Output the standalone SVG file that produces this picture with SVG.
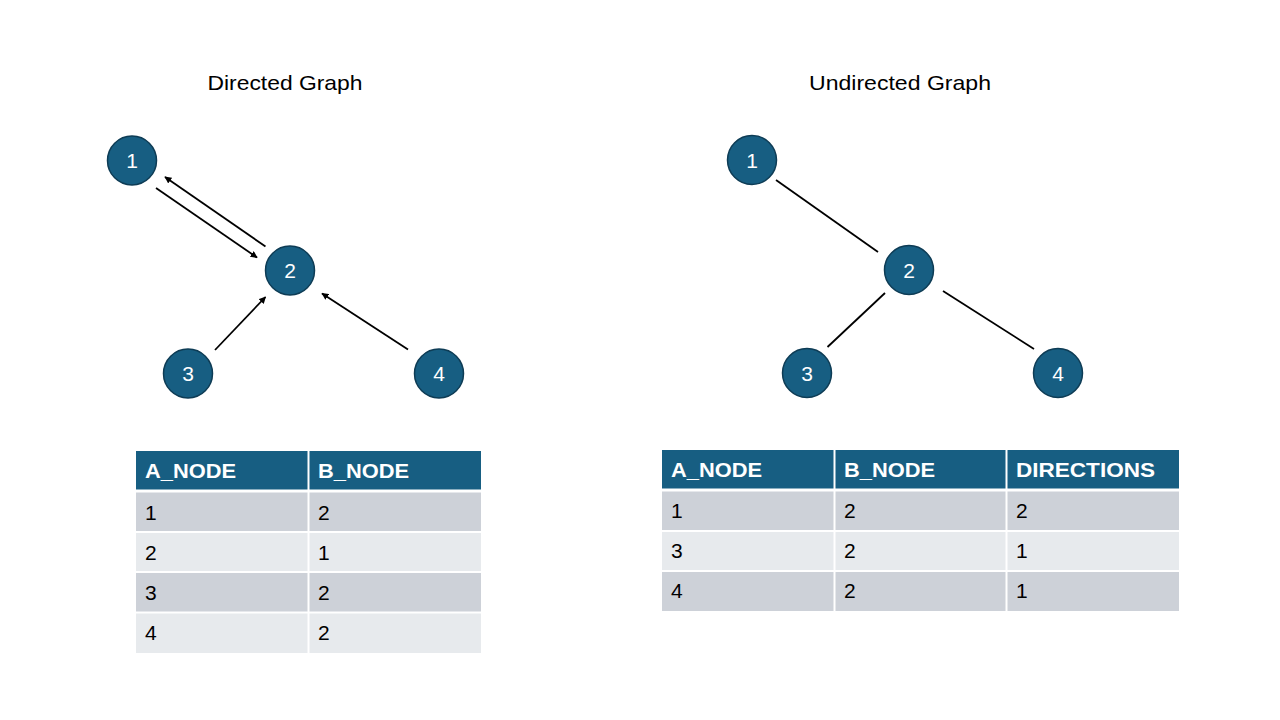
<svg xmlns="http://www.w3.org/2000/svg" width="1280" height="720" viewBox="0 0 1280 720">
<defs>
<style>
.title{font-family:"Liberation Sans",Arial,sans-serif;font-size:21px;fill:#000;text-anchor:middle}
.node circle{fill:#175E82;stroke:#0E3C55;stroke-width:1.5}
.node text{font-family:"Liberation Sans",Arial,sans-serif;font-size:21px;fill:#fff;text-anchor:middle}
.edge{stroke:#000;stroke-width:1.8;fill:none}
.hdr{fill:#175E82}
.rd{fill:#CDD1D8}
.rl{fill:#E7EAED}
.th{font-family:"Liberation Sans",Arial,sans-serif;font-size:21px;font-weight:bold;fill:#fff}
.td{font-family:"Liberation Sans",Arial,sans-serif;font-size:21px;fill:#000}
.sep{stroke:#fff;stroke-width:2}
</style>
<marker id="arr" viewBox="0 0 10 10" refX="9" refY="5" markerWidth="7" markerHeight="7" markerUnits="userSpaceOnUse" orient="auto">
<path d="M0,0 L10,5 L0,10 z" fill="#000"/>
</marker>
</defs>
<rect width="1280" height="720" fill="#fff"/>

<text class="title" x="285" y="90" textLength="155" lengthAdjust="spacingAndGlyphs">Directed Graph</text>
<text class="title" x="900" y="90" textLength="182" lengthAdjust="spacingAndGlyphs">Undirected Graph</text>

<g id="connectors">
<line class="edge" x1="156" y1="188" x2="257" y2="257.5" marker-end="url(#arr)"/>
<line class="edge" x1="265.5" y1="246.5" x2="165" y2="177" marker-end="url(#arr)"/>
<line class="edge" x1="215" y1="350" x2="265.5" y2="297" marker-end="url(#arr)"/>
<line class="edge" x1="408" y1="349.5" x2="322" y2="293.5" marker-end="url(#arr)"/>
<line class="edge" x1="776" y1="180" x2="878" y2="252"/>
<line class="edge" x1="885" y1="293" x2="827.5" y2="347"/>
<line class="edge" x1="943" y1="291" x2="1034" y2="349"/>
</g>

<g id="d-node-1" class="node"><circle cx="132" cy="160.5" r="24.5"/><text x="132" y="168">1</text></g>
<g id="d-node-2" class="node"><circle cx="290" cy="270.5" r="24.5"/><text x="290" y="278">2</text></g>
<g id="d-node-3" class="node"><circle cx="188" cy="373.5" r="24.5"/><text x="188" y="381">3</text></g>
<g id="d-node-4" class="node"><circle cx="439" cy="373.5" r="24.5"/><text x="439" y="381">4</text></g>

<g id="u-node-1" class="node"><circle cx="752" cy="160" r="24.5"/><text x="752" y="167.5">1</text></g>
<g id="u-node-2" class="node"><circle cx="909" cy="270" r="24.5"/><text x="909" y="277.5">2</text></g>
<g id="u-node-3" class="node"><circle cx="807" cy="373" r="24.5"/><text x="807" y="380.5">3</text></g>
<g id="u-node-4" class="node"><circle cx="1058" cy="373" r="24.5"/><text x="1058" y="380.5">4</text></g>

<g id="table-directed">
<rect class="hdr" x="136" y="451" width="345" height="39"/>
<rect class="rd" x="136" y="492" width="345" height="40"/>
<rect class="rl" x="136" y="532" width="345" height="40"/>
<rect class="rd" x="136" y="572" width="345" height="40"/>
<rect class="rl" x="136" y="612" width="345" height="41"/>
<line class="sep" x1="136" y1="491" x2="481" y2="491" style="stroke-width:3"/>
<line class="sep" x1="136" y1="532" x2="481" y2="532"/>
<line class="sep" x1="136" y1="572" x2="481" y2="572"/>
<line class="sep" x1="136" y1="612.5" x2="481" y2="612.5"/>
<line class="sep" x1="308.5" y1="451" x2="308.5" y2="653"/>
<text class="th" x="145" y="478" textLength="91" lengthAdjust="spacingAndGlyphs">A_NODE</text>
<text class="th" x="318" y="478" textLength="91" lengthAdjust="spacingAndGlyphs">B_NODE</text>
<text class="td" x="145" y="519.5">1</text><text class="td" x="318" y="519.5">2</text>
<text class="td" x="145" y="559.5">2</text><text class="td" x="318" y="559.5">1</text>
<text class="td" x="145" y="599.5">3</text><text class="td" x="318" y="599.5">2</text>
<text class="td" x="145" y="640">4</text><text class="td" x="318" y="640">2</text>
</g>

<g id="table-undirected">
<rect class="hdr" x="662" y="450" width="517" height="39"/>
<rect class="rd" x="662" y="491" width="517" height="40"/>
<rect class="rl" x="662" y="531" width="517" height="40"/>
<rect class="rd" x="662" y="571" width="517" height="40"/>
<line class="sep" x1="662" y1="490" x2="1179" y2="490" style="stroke-width:3"/>
<line class="sep" x1="662" y1="531" x2="1179" y2="531"/>
<line class="sep" x1="662" y1="571" x2="1179" y2="571"/>
<line class="sep" x1="834.5" y1="450" x2="834.5" y2="611"/>
<line class="sep" x1="1006.5" y1="450" x2="1006.5" y2="611"/>
<text class="th" x="671" y="477" textLength="91" lengthAdjust="spacingAndGlyphs">A_NODE</text>
<text class="th" x="844" y="477" textLength="91" lengthAdjust="spacingAndGlyphs">B_NODE</text>
<text class="th" x="1016" y="477" textLength="139" lengthAdjust="spacingAndGlyphs">DIRECTIONS</text>
<text class="td" x="671" y="518">1</text><text class="td" x="844" y="518">2</text><text class="td" x="1016" y="518">2</text>
<text class="td" x="671" y="558">3</text><text class="td" x="844" y="558">2</text><text class="td" x="1016" y="558">1</text>
<text class="td" x="671" y="598">4</text><text class="td" x="844" y="598">2</text><text class="td" x="1016" y="598">1</text>
</g>
</svg>
